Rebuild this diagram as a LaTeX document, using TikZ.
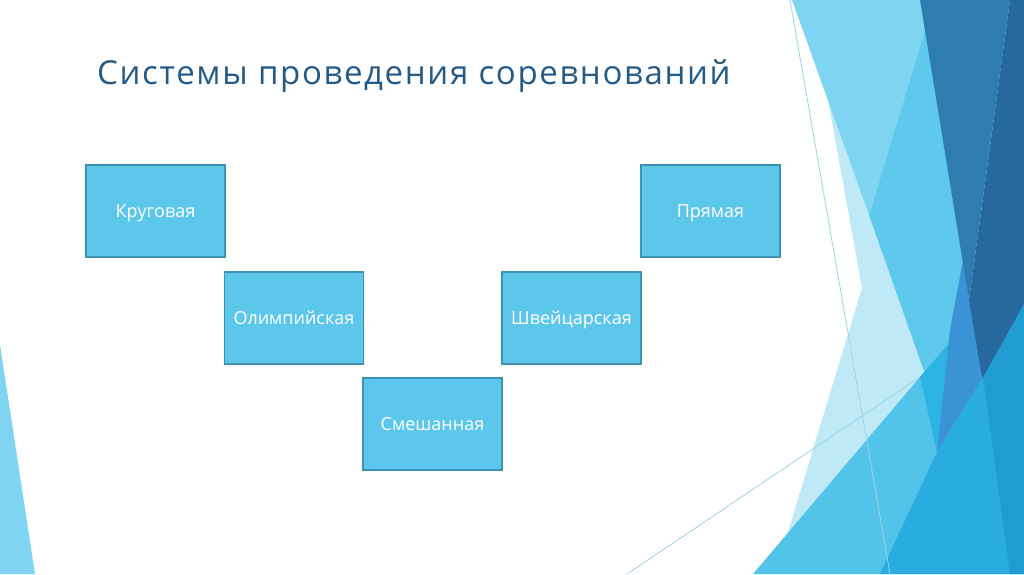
\documentclass[tikz,border=0pt]{standalone}
\usepackage{fontspec}
\setmainfont{Open Sans}
\usetikzlibrary{positioning}
\definecolor{titleblue}{RGB}{36,91,134}
\definecolor{boxblue}{RGB}{92,199,235}
\definecolor{boxedge}{RGB}{62,146,180}
\definecolor{palecyan}{RGB}{192,233,248}
\definecolor{lightcyan}{RGB}{127,212,241}
\definecolor{midcyan}{RGB}{94,201,237}
\definecolor{lowcyan}{RGB}{82,196,234}
\definecolor{brightcyan}{RGB}{45,180,228}
\definecolor{violetblue}{RGB}{58,147,213}
\definecolor{deepcyan}{RGB}{41,172,224}
\definecolor{stripcyan}{RGB}{31,157,210}
\definecolor{darkblue}{RGB}{47,125,176}
\definecolor{darkerblue}{RGB}{37,105,159}
\definecolor{thinline}{RGB}{160,210,228}

\begin{document}
\begin{tikzpicture}[
        x=1pt, y=-1pt,
        system/.style={rectangle, draw=boxedge, line width=1.3pt, fill=boxblue, minimum width=139pt, minimum height=92pt, inner sep=0pt, text=white, text height=1.5ex, text depth=.25ex, font=\fontsize{18}{21}\selectfont},
        facetline/.style={draw=thinline, line width=0.8pt}
    ]
        % Frame
        \useasboundingbox (0,0) rectangle (1024,574);
        \fill[white] (0,0) rectangle (1024,574);

        % Left sliver
        \fill[lightcyan] (0,345) -- (35,574) -- (0,574) -- cycle;

        % Right facets
        \fill[palecyan] (828,100) -- (869,215) -- (945,420) -- (788,532) -- (862,288) -- cycle;
        \fill[lightcyan] (792,0) -- (922,0) -- (928,20) -- (869,215) -- cycle;
        \fill[midcyan] (922,0) -- (928,20) -- (869,215) -- (925,374) -- (953,343) -- (985,400) -- cycle;
        \fill[lowcyan] (753,574) -- (920,377) -- (953,340) -- (985,400) -- (1024,574) -- cycle;
        \fill[brightcyan] (920,377) -- (952,340) -- (937,452) -- cycle;
        \fill[violetblue] (963,260) -- (982,379) -- (937,452) -- (950,330) -- cycle;
        \fill[deepcyan] (1024,304) -- (983,377) -- (937,452) -- (880,574) -- (1024,574) -- cycle;
        \fill[stripcyan] (1024,304) -- (983,377) -- (1010,574) -- (1024,574) -- cycle;
        \fill[darkblue] (920,0) -- (1010,0) -- (969,300) -- cycle;
        \fill[darkerblue] (1010,0) -- (1024,0) -- (1024,304) -- (982,379) -- (969,300) -- cycle;

        % Thin lines
        \draw[facetline] (790,0) -- (890,574);
        \draw[facetline] (627,574) -- (920,377);

        % Title
        \node[anchor=base west, text=titleblue, font=\fontsize{33}{38}\selectfont\addfontfeature{LetterSpace=5}, inner sep=0pt] (title) at (97,84) {Системы проведения соревнований};

        % Systems
        \node[system] (krug) at (155.5,211) {\raisebox{-3pt}{Круговая}};
        \node[system] (olymp) at (294,318) {\raisebox{-3pt}{Олимпийская}};
        \node[system] (mixed) at (432.5,424) {\raisebox{-3pt}{Смешанная}};
        \node[system] (swiss) at (571.5,318) {\raisebox{-3pt}{Швейцарская}};
        \node[system] (direct) at (710.5,211) {\raisebox{-3pt}{Прямая}};

    \end{tikzpicture}
\end{document}
